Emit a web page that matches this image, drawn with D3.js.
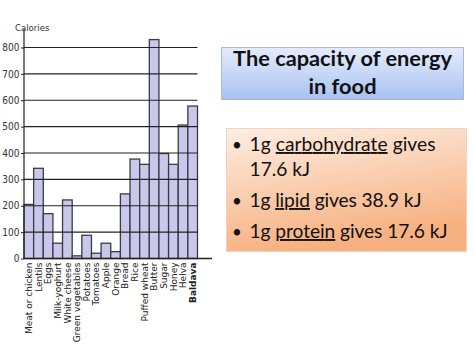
<!DOCTYPE html>
<html><head><meta charset="utf-8">
<script src="https://cdn.jsdelivr.net/npm/d3@7/dist/d3.min.js"></script>
<style>body{margin:0;background:#fff}svg{display:block}</style>
</head><body>
<svg id="c" width="474" height="355"></svg>
<script>
const categories = ["Meat or chicken","Lentils","Eggs","Milk-yoghurt","White cheese","Green vegetables","Potatoes","Tomatoes","Apple","Orange","Bread","Rice","Puffed wheat","Butter","Sugar","Honey","Helva","Baldava"];
const calories = [205,342,170,58,222,10,88,20,58,26,245,377,357,830,398,357,506,578];
const yTicks = [0,100,200,300,400,500,600,700,800];
const titleLines = ["The capacity of energy","in food"];
const bullets = [
  [["1g ",false],["carbohydrate",true],[" gives",false]],
  [["17.6 kJ",false]],
  [["1g ",false],["lipid",true],[" gives 38.9 kJ",false]],
  [["1g ",false],["protein",true],[" gives 17.6 kJ",false]]
];

const svg = d3.select("#c");
const defs = svg.append("defs");
const g1 = defs.append("linearGradient").attr("id","gb").attr("x1",0).attr("y1",0).attr("x2",0).attr("y2",1);
g1.append("stop").attr("offset","0%").attr("stop-color","#e4ecfc");
g1.append("stop").attr("offset","100%").attr("stop-color","#a8c2f2");
const g2 = defs.append("linearGradient").attr("id","go").attr("x1",0).attr("y1",0).attr("x2",0.3).attr("y2",1);
g2.append("stop").attr("offset","0%").attr("stop-color","#fdeee3");
g2.append("stop").attr("offset","100%").attr("stop-color","#f7b07f");

// chart
const x = d3.scaleBand().domain(categories).range([24,197.5]).padding(0);
const y = d3.scaleLinear().domain([0,800]).range([258.5,47.5]);

const chart = svg.append("g");
chart.selectAll("rect.bar").data(categories).join("rect").attr("class","bar")
  .attr("x",d=>x(d)).attr("width",x.bandwidth())
  .attr("y",(d,i)=>y(calories[i])).attr("height",(d,i)=>y(0)-y(calories[i]))
  .attr("fill","#c9c8ea").attr("stroke","#3a3a48").attr("stroke-width",1.3);

// gridlines on top
chart.selectAll("line.grid").data(yTicks.filter(t=>t>0)).join("line").attr("class","grid")
  .attr("x1",24).attr("x2",197.5).attr("y1",d=>y(d)).attr("y2",d=>y(d))
  .attr("stroke","#222").attr("stroke-width",1.2);

// y axis
const yAxis = d3.axisLeft(y).tickValues(yTicks).tickSize(3).tickPadding(1.5);
const ya = chart.append("g").attr("transform","translate(24,0)").call(yAxis);
ya.select(".domain").remove();
ya.selectAll("text").attr("font-family","'Liberation Sans Narrow','DejaVu Sans Condensed',sans-serif").attr("font-size",10).attr("fill","#333");
ya.selectAll("line").attr("stroke","#222");
chart.append("line").attr("x1",24).attr("x2",24).attr("y1",29).attr("y2",258.5).attr("stroke","#222").attr("stroke-width",1.2);
chart.append("text").attr("x",15).attr("y",31).text("Calories")
  .attr("font-family","'Liberation Sans Narrow','DejaVu Sans Condensed',sans-serif").attr("font-size",9.5).attr("fill","#333");

// x axis
chart.append("line").attr("x1",24).attr("x2",212).attr("y1",258.5).attr("y2",258.5).attr("stroke","#222").attr("stroke-width",1.3);
const xAxis = d3.axisBottom(x).tickSize(0).tickPadding(0);
const xa = chart.append("g").attr("transform","translate(0,258.5)").call(xAxis);
xa.select(".domain").remove();
xa.selectAll("text")
  .attr("transform","rotate(-90)")
  .attr("text-anchor","end").attr("x",-4).attr("y",0).attr("dy","0.35em")
  .attr("font-family","'DejaVu Sans',sans-serif").attr("font-size",9).attr("fill","#222")
  .attr("font-weight",d=>d==="Baldava"?"bold":"normal");

// title box
svg.append("rect").attr("x",221.5).attr("y",47.5).attr("width",242).attr("height",52)
  .attr("fill","url(#gb)").attr("stroke","#a9b8d6").attr("stroke-width",1);
const tt = svg.append("text").attr("text-anchor","middle")
  .attr("font-family","Lato,'Open Sans',sans-serif").attr("font-weight","bold").attr("font-size",20).attr("fill","#111");
const tBase = [66,94];
titleLines.forEach((t,i)=>tt.append("tspan").attr("x",342.5).attr("y",tBase[i]).text(t));
const w0 = tt.select("tspan").node().getComputedTextLength();
tt.attr("font-size",Math.min(22,20*219/w0));

// bullet box
svg.append("rect").attr("x",226.5).attr("y",128.5).attr("width",240).attr("height",123)
  .attr("fill","url(#go)").attr("stroke","#f1d2bc").attr("stroke-width",1);
const lineY = [151,176,207,238];
const lineW = [186,null,172,198];
const bulletOn = [true,false,true,true];
bullets.forEach((parts,i)=>{
  if(bulletOn[i]) svg.append("text").attr("x",232).attr("y",lineY[i]).text("•")
    .attr("font-family","Lato,'Open Sans',sans-serif").attr("font-size",17).attr("fill","#111");
  const t = svg.append("text").attr("x",249.5).attr("y",lineY[i])
    .attr("font-family","Lato,'Open Sans',sans-serif").attr("font-size",19.2).attr("fill","#111");
  parts.forEach(p=>t.append("tspan").text(p[0]).attr("text-decoration",p[1]?"underline":null));
  if(lineW[i]) t.attr("textLength",lineW[i]).attr("lengthAdjust","spacing");
});
</script>
</body></html>
